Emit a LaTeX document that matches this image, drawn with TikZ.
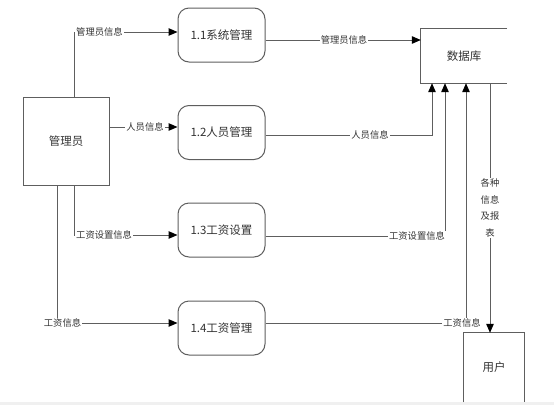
\documentclass[tikz,border=0pt]{standalone}
\usepackage{fontspec}
\setmainfont{Noto Sans CJK SC}
\usetikzlibrary{arrows.meta}
\definecolor{ln}{HTML}{5E5E5E}
\definecolor{tx}{HTML}{333333}
\tikzset{
  flow/.style={draw=ln, line width=1pt, -{Triangle[length=9pt,width=7.5pt,fill=black,color=black]}},
  plain/.style={draw=ln, line width=1pt},
  proc/.style={draw=ln, line width=1pt, rounded corners=11pt, minimum width=87pt, minimum height=54pt, inner sep=0pt, font=\fontsize{11.5}{13}\selectfont, text=tx},
  ent/.style={inner sep=0pt, font=\fontsize{11.5}{13}\selectfont, text=tx},
  lbl/.style={fill=white, inner sep=1pt, font=\fontsize{9.3}{10}\selectfont, text=tx}
}
\begin{document}
\begin{tikzpicture}[x=1pt,y=-1pt]
\useasboundingbox (0,0) rectangle (554,405);
\fill[white] (0,0) rectangle (554,405);
\fill[black!6] (0,401.5) rectangle (554,405);
% entities
\node[ent, draw=ln, line width=1pt, minimum width=86pt, minimum height=88pt] (admin) at (66,141) {管理员};
\node[ent, minimum width=86pt, minimum height=54pt] (db) at (464,56) {数据库};
\draw[plain] (db.north east) -- (db.north west) -- (db.south west) -- (db.south east);
\node[ent, minimum width=60pt, minimum height=69pt] (user) at (494,367.5) {用户};
\draw[plain] (user.south west) -- (user.north west) -- (user.north east) -- (user.south east);
% processes
\node[proc] (p1) at (221.5,35) {1.1系统管理};
\node[proc] (p2) at (221.5,132.5) {1.2人员管理};
\node[proc] (p3) at (221.5,230) {1.3工资设置};
\node[proc] (p4) at (221.5,328) {1.4工资管理};
% admin -> processes
\coordinate (a1) at (74,32);
\draw[flow] (admin.north -| a1) -- (a1) -- (a1 -| p1.west);
\node[lbl, anchor=west] at (75,32) {管理员信息};
\draw[flow] (admin.east |- 0,127) -- (p2.west |- 0,127);
\node[lbl] at (145,127) {人员信息};
\coordinate (a3) at (74,235);
\draw[flow] (admin.south -| a3) -- (a3) -- (a3 -| p3.west);
\node[lbl, anchor=west] at (75,235) {工资设置信息};
\coordinate (a4) at (57,323);
\draw[flow] (admin.south -| a4) -- (a4) -- (a4 -| p4.west);
\node[lbl] at (62.5,323) {工资信息};
% processes -> db
\draw[flow] (p1.east |- 0,40) -- (db.west |- 0,40);
\node[lbl] at (344,40) {管理员信息};
\coordinate (b2) at (432,135);
\draw[flow] (p2.east |- b2) -- (b2) -- (b2 |- db.south);
\node[lbl] at (370,135) {人员信息};
\coordinate (b3) at (445,236);
\draw[flow] (p3.east |- b3) -- (b3) -- (b3 |- db.south);
\node[lbl] at (417,236) {工资设置信息};
\coordinate (b4) at (466,323);
\draw[flow] (p4.east |- b4) -- (b4) -- (b4 |- db.south);
\node[lbl] at (462,323) {工资信息};
% db -> user
\coordinate (c1) at (490,83);
\draw[flow] (c1) -- (c1 |- user.north);
\node[lbl, align=center, font=\fontsize{9.3}{16.5}\selectfont] at (490,208) {各种\\信息\\及报\\表};
\end{tikzpicture}
\end{document}
